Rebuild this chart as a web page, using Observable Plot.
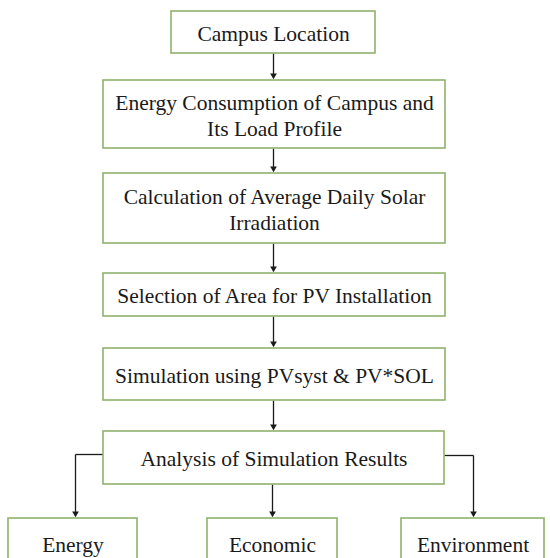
<!DOCTYPE html>
<html>
<head>
<meta charset="utf-8">
<script src="https://cdn.jsdelivr.net/npm/d3@7"></script>
<script src="https://cdn.jsdelivr.net/npm/@observablehq/plot@0.6"></script>
<style>
  html, body { margin: 0; padding: 0; background: #fff; }
  #chart svg { display: block; background: #fff; }
</style>
</head>
<body>
<div id="chart"></div>
<script>
// Flowchart nodes
const labels = [
  "Campus Location",
  "Energy Consumption of Campus and\nIts Load Profile",
  "Calculation of Average Daily Solar\nIrradiation",
  "Selection of Area for PV Installation",
  "Simulation using PVsyst & PV*SOL",
  "Analysis of Simulation Results",
  "Energy",
  "Economic",
  "Environment"
];
const boxLeft   = [171, 103, 103, 103, 103, 103,   8, 207, 401];
const boxRight  = [375, 445, 445, 445, 445, 444, 137, 337, 544];
const boxTop    = [ 11,  80, 173, 273, 348, 431, 518, 518, 518];
const boxBottom = [ 53, 148, 243, 316, 400, 484, 575, 575, 575];
const labelY    = [ 32, 114, 208, 294, 374, 457, 543, 543, 543];

// Connector segments (from -> to)
const segX1 = [273, 273, 273, 273, 273, 103,  75, 272, 444, 473];
const segY1 = [ 53, 148, 243, 316, 400, 454, 454, 484, 455, 455];
const segX2 = [273, 273, 273, 273, 273,  75,  75, 272, 473, 473];
const segY2 = [ 75, 168, 268, 343, 426, 454, 513, 513, 455, 513];

// Arrow heads (tips)
const tipX = [273, 273, 273, 273, 273,  75, 272, 473];
const tipY = [ 77, 170, 270, 345, 428, 515, 515, 515];

const boxes = labels.map((label, i) => ({
  label, x1: boxLeft[i], x2: boxRight[i], y1: boxTop[i], y2: boxBottom[i],
  cx: (boxLeft[i] + boxRight[i]) / 2, cy: labelY[i]
}));
const segs = segX1.map((x, i) => ({x1: x, y1: segY1[i], x2: segX2[i], y2: segY2[i]}));
const tips = tipX.map((x, i) => ({x, y: tipY[i]}));

const chart = Plot.plot({
  width: 550,
  height: 558,
  margin: 0,
  x: {domain: [0, 550], range: [0, 550], axis: null},
  y: {domain: [0, 558], range: [0, 558], axis: null},
  marks: [
    Plot.link(segs, {x1: "x1", y1: "y1", x2: "x2", y2: "y2", stroke: "#1a1a1a", strokeWidth: 1.3}),
    Plot.dot(tips, {x: "x", y: "y", symbol: "triangle2", r: 3.2, fill: "#1a1a1a", rotate: 180, dy: -2}),
    Plot.rect(boxes, {x1: "x1", x2: "x2", y1: "y1", y2: "y2", fill: "#fff", stroke: "#8fb16b", strokeWidth: 1.6}),
    Plot.text(boxes, {
      x: "cx", y: "cy", text: "label",
      fontFamily: "Liberation Serif", fontSize: 21.5, fill: "#1a1a1a",
      lineHeight: 1.22, textAnchor: "middle", lineAnchor: "middle"
    })
  ]
});
document.getElementById("chart").append(chart);
</script>
</body>
</html>
